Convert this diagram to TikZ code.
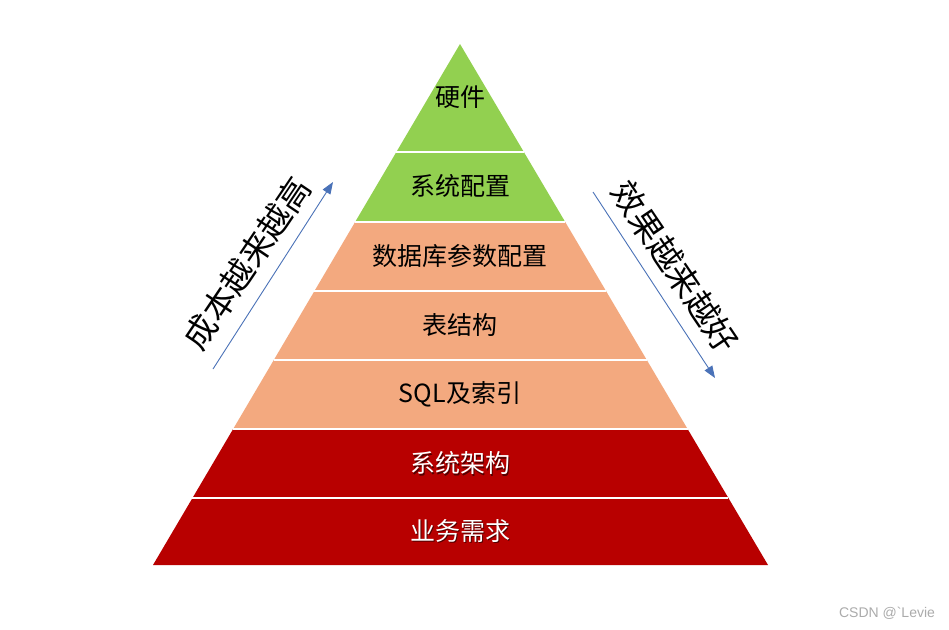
\documentclass[tikz,border=0pt]{standalone}
\usepackage{fontspec}
\newfontfamily\cjk{Noto Sans CJK SC}
\newfontfamily\wmfont{Liberation Sans}
\usetikzlibrary{calc,arrows.meta}
\definecolor{pgreen}{HTML}{92D050}
\definecolor{porange}{HTML}{F3A97F}
\definecolor{pred}{HTML}{B80000}
\definecolor{parrow}{HTML}{4A72B8}
\definecolor{wmgray}{HTML}{ABABAB}
\begin{document}
\begin{tikzpicture}[x=1pt,y=-1pt,
  lbl/.style={font=\cjk\fontsize{25}{30}\selectfont, text=black, inner sep=0pt},
  lblw/.style={font=\cjk\fontsize{25}{30}\selectfont, text=white, inner sep=0pt},
  lbls/.style={font=\cjk\fontsize{25}{30}\selectfont, text=black, opacity=0.55, inner sep=0pt},
  sidetxt/.style={font=\cjk\fontsize{33}{38}\selectfont, text=black, inner sep=0pt},
  arr/.style={draw=parrow, line width=0.9pt, -{Triangle[length=12pt,width=9pt]}},
  gap/.style={draw=white, line width=2.5pt}
]
\fill[white] (0,0) rectangle (949,629);
\useasboundingbox (0,0) rectangle (949,629);
\coordinate (A) at (460,44);
\coordinate (BL) at (153,565);
\coordinate (BR) at (768,565);
\foreach \i/\t in {1/0.2073,2/0.3417,3/0.4741,4/0.6065,5/0.7390,6/0.8714,7/1}{
  \coordinate (L\i) at ($(A)!\t!(BL)$);
  \coordinate (R\i) at ($(A)!\t!(BR)$);
}
% bands
\fill[pgreen] (A) -- (R1) -- (L1) -- cycle;
\fill[pgreen] (L1) -- (R1) -- (R2) -- (L2) -- cycle;
\fill[porange] (L2) -- (R2) -- (R3) -- (L3) -- cycle;
\fill[porange] (L3) -- (R3) -- (R4) -- (L4) -- cycle;
\fill[porange] (L4) -- (R4) -- (R5) -- (L5) -- cycle;
\fill[pred] (L5) -- (R5) -- (R6) -- (L6) -- cycle;
\fill[pred] (L6) -- (R6) -- (R7) -- (L7) -- cycle;
\foreach \i in {1,...,6}{\draw[gap] (L\i) -- (R\i);}
% labels
\node[lbl] (hw) at (460,97) {硬件};
\node[lbl] (syscfg) at (460,186) {系统配置};
\node[lbl] (dbcfg) at (460,256) {数据库参数配置};
\node[lbl] (table) at (460,325) {表结构};
\node[lbl] (sql) at (460,394) {SQL及索引};
\node[lbls] (archs) at (461.5,464.5) {系统架构};
\node[lblw] (arch) at (460,463) {系统架构};
\node[lbls] (bizs) at (461.5,532.5) {业务需求};
\node[lblw] (biz) at (460,531) {业务需求};
% side arrows
\coordinate (la1) at (213,369);
\coordinate (la2) at (333,182);
\draw[arr] (la1) -- (la2);
\coordinate (ra1) at (593,192);
\coordinate (ra2) at (715,378);
\draw[arr] (ra1) -- (ra2);
\node[sidetxt, rotate=56] (cost) at (247,263) {成本越来越高};
\node[sidetxt, rotate=-56] (effect) at (675,267) {效果越来越好};
% watermark
\node[font=\wmfont\fontsize{14}{16}\selectfont, text=wmgray, inner sep=0pt] (wm) at (887,613) {CSDN @\textasciigrave Levie};
\end{tikzpicture}
\end{document}
